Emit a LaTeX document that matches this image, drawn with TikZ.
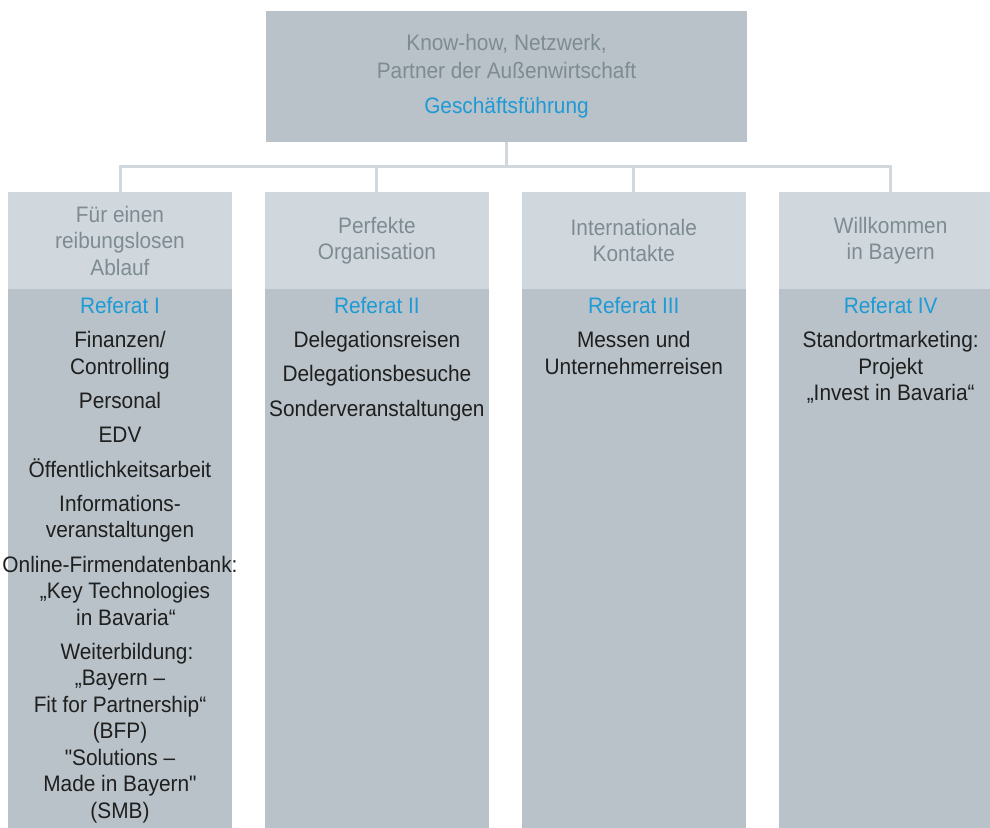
\documentclass[tikz,border=0pt]{standalone}
\usepackage{fontspec}
\setmainfont[FakeStretch=0.93,Ligatures=TeXOff]{Liberation Sans}
\usetikzlibrary{positioning}
\definecolor{boxgray}{HTML}{B8C2C8}
\definecolor{headgray}{HTML}{D1D8DD}
\definecolor{textgray}{HTML}{7E8B93}
\definecolor{refblue}{HTML}{1E9AD6}
\definecolor{itemblack}{HTML}{1F1F1F}

\begin{document}
\begin{tikzpicture}[
	x=1pt, y=-1pt,
	every node/.style={font=\fontsize{22.4}{26.5}\selectfont},
	topbox/.style={
		fill=boxgray, minimum width=481pt, minimum height=131pt,
		align=center, text=textgray, inner sep=0pt,
		font=\fontsize{22.4}{27.8}\selectfont
	},
	head/.style={
		fill=headgray, minimum width=224pt, minimum height=97pt,
		align=center, text=textgray, inner sep=0pt
	},
	body/.style={
		fill=boxgray, minimum width=224pt, minimum height=545pt,
		anchor=north, inner sep=0pt
	},
	items/.style={align=center, anchor=north, text=itemblack, inner sep=0pt},
	conn/.style={draw=headgray, line width=3pt}
	]
	\useasboundingbox[fill=white] (0,0) rectangle (990,827);
	\node[topbox] (gf) at (506.5,76.5) {Know-how, Netzwerk,\\Partner der Außenwirtschaft\\[7.5pt]{\color{refblue}Geschäftsführung}};
	\node[head] (h1) at (120,240.5) {Für einen\\reibungslosen\\Ablauf};
	\node[head, right=32.5pt of h1] (h2) {Perfekte\\Organisation};
	\node[head, right=32.5pt of h2] (h3) {Internationale\\Kontakte};
	\node[head, right=32.5pt of h3] (h4) {Willkommen\\in Bayern};
	\foreach \i in {1,...,4}
	{
		\node[body] (b\i) at (h\i.south) {};
	}
	\coordinate (bus) at (506.5,166);
	\foreach \i in {1,...,4}
	{
		\draw[conn] (gf.south) -- (gf.south |- bus) -| (h\i.north);
	}
	\node[items] (t1) at ([yshift=-7.7pt]b1.north) {{\color{refblue}Referat I}\\[7.8pt]
		Finanzen/\\Controlling\\[7.8pt]
		Personal\\[7.8pt]
		EDV\\[7.8pt]
		Öffentlichkeitsarbeit\\[7.8pt]
		Informations-\\veranstaltungen\\[7.8pt]
		Online-Firmendatenbank:\\\hspace*{10pt}„Key Technologies\\\hspace*{12pt}in Bavaria“\\[7.8pt]
		\hspace*{14pt}Weiterbildung:\\„Bayern –\\Fit for Partnership“\\(BFP)\\"Solutions –\\Made in Bayern"\\(SMB)};
	\node[items] (t2) at ([yshift=-7.7pt]b2.north) {{\color{refblue}Referat II}\\[7.8pt]
		Delegationsreisen\\[7.8pt]
		Delegationsbesuche\\[7.8pt]
		Sonderveranstaltungen};
	\node[items] (t3) at ([yshift=-7.7pt]b3.north) {{\color{refblue}Referat III}\\[7.8pt]
		Messen und\\Unternehmerreisen};
	\node[items] (t4) at ([yshift=-7.7pt]b4.north) {{\color{refblue}Referat IV}\\[7.8pt]
		Standortmarketing:\\Projekt\\„Invest in Bavaria“};
\end{tikzpicture}
\end{document}
